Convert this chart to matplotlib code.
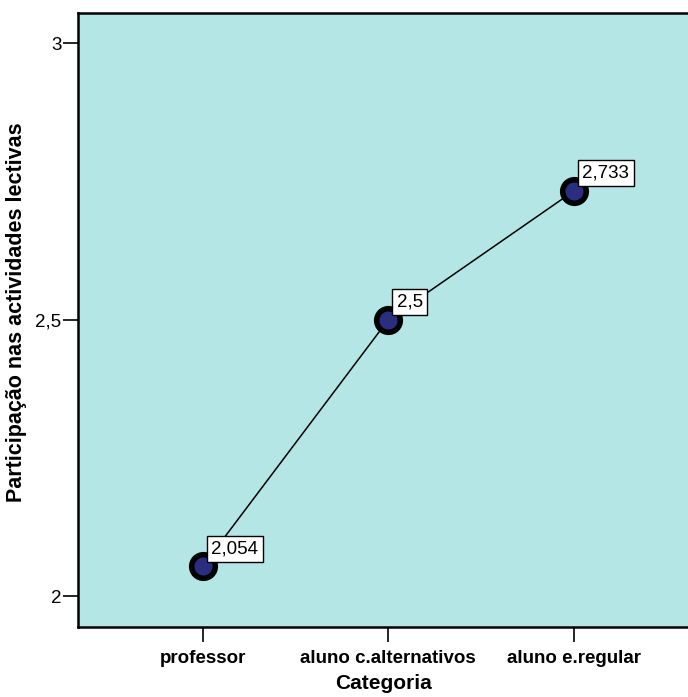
import matplotlib
matplotlib.use("Agg")
import matplotlib.pyplot as plt

# data
categories = ["professor", "aluno c.alternativos", "aluno e.regular"]
means = [2.054, 2.5, 2.733]
mean_labels = ["2,054", "2,5", "2,733"]
y_ticks = [2, 2.5, 3]
y_tick_labels = ["2", "2,5", "3"]

plt.rcParams["font.family"] = ["Liberation Sans", "DejaVu Sans"]

fig = plt.figure(figsize=(6.88, 6.97), dpi=100)
ax = fig.add_axes([0.1134, 0.1004, 0.8866, 0.8809])
ax.set_facecolor("#b4e6e6")

x = list(range(1, len(categories) + 1))
ax.plot(x, means, color="black", linewidth=1.1, zorder=2)
ax.plot(x, means, linestyle="none", marker="o", markersize=17,
        markerfacecolor="#2b2e80", markeredgecolor="black",
        markeredgewidth=4, zorder=3)

for xi, yi, lab in zip(x, means, mean_labels):
    ax.annotate(lab, (xi, yi), xytext=(6, 6.5), textcoords="offset points",
                ha="left", va="bottom", fontsize=13.5, zorder=4,
                bbox=dict(boxstyle="square,pad=0.24", facecolor="white",
                          edgecolor="black", linewidth=1))

ax.set_xlim(0.328, 3.615)
ax.set_ylim(1.944, 3.055)
ax.set_xticks(x)
ax.set_xticklabels(categories, fontsize=13.5, fontweight="bold")
ax.set_yticks(y_ticks)
ax.set_yticklabels(y_tick_labels, fontsize=13.5)

ax.tick_params(axis="both", direction="out", length=11, width=1.2, color="black")
ax.tick_params(axis="x", pad=5.5)
ax.tick_params(axis="y", pad=1)

ax.spines["right"].set_visible(False)
for s in ["left", "top", "bottom"]:
    ax.spines[s].set_linewidth(1.8)

ax.set_xlabel("Categoria", fontsize=15, fontweight="bold", labelpad=5)
ax.set_ylabel("Participação nas actividades lectivas", fontsize=15.5,
              fontweight="bold")
ax.yaxis.set_label_coords(-0.084, 0.513)

fig.savefig("out.png", dpi=100)
